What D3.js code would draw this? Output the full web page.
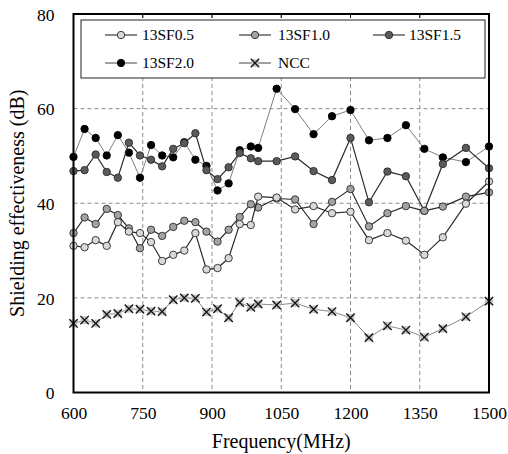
<!DOCTYPE html>
<html>
<head>
<meta charset="utf-8">
<script src="https://cdn.jsdelivr.net/npm/d3@7"></script>
<style>
  html, body { margin: 0; padding: 0; background: #fff; }
  svg { display: block; }
</style>
</head>
<body>
<svg id="chart" width="508" height="454"></svg>
<script>
// ---- data ----
const freqs = [600, 624, 648, 672, 696, 720, 744, 768, 792, 816, 840, 864, 888, 912, 936, 960, 984, 1000,
               1040, 1080, 1120, 1160, 1200, 1240, 1280, 1320, 1360, 1400, 1450, 1500];
const sf05 = [31.0, 30.7, 32.2, 31.0, 36.0, 34.0, 33.7, 31.8, 27.8, 29.1, 30.0, 33.7, 26.0, 26.3, 28.4, 35.6, 35.4, 41.4,
              41.2, 38.7, 39.4, 37.9, 38.2, 32.2, 33.7, 32.1, 29.1, 32.8, 39.9, 44.6];
const sf10 = [33.7, 37.0, 35.6, 38.8, 37.5, 34.7, 30.5, 34.4, 33.1, 35.0, 36.3, 36.0, 34.0, 31.9, 34.4, 37.1, 39.8, 39.1,
              41.0, 40.8, 35.6, 40.3, 43.0, 35.1, 37.9, 39.4, 38.4, 39.3, 41.4, 42.3];
const sf15 = [46.8, 47.0, 50.3, 46.6, 45.4, 52.8, 50.1, 49.2, 47.8, 51.5, 52.7, 54.8, 47.0, 45.1, 47.6, 50.6, 49.5, 48.9,
              48.9, 49.9, 46.8, 44.9, 53.8, 40.2, 46.7, 45.7, 38.4, 48.3, 51.7, 47.4];
const sf20 = [49.8, 55.7, 53.8, 50.1, 54.4, 50.7, 45.4, 52.3, 50.1, 49.7, 52.9, 49.2, 47.9, 42.7, 44.2, 51.2, 52.0, 51.7,
              64.2, 59.9, 54.6, 58.4, 59.7, 53.3, 53.8, 56.5, 51.5, 49.7, 48.7, 52.0];
const ncc  = [14.6, 15.3, 14.6, 16.5, 16.7, 17.7, 17.6, 17.2, 17.1, 19.6, 20.0, 19.9, 17.0, 17.7, 15.8, 19.0, 18.0, 18.7,
              18.5, 18.9, 17.6, 17.1, 15.8, 11.6, 14.1, 13.2, 11.7, 13.5, 16.0, 19.3];
const seriesNames = ["13SF0.5", "13SF1.0", "13SF1.5", "13SF2.0", "NCC"];
const xTicks = [600, 750, 900, 1050, 1200, 1350, 1500];
const yTicks = [0, 20, 40, 60, 80];
const xTitle = "Frequency(MHz)";
const yTitle = "Shielding effectiveness (dB)";

// ---- styles ----
const FONT = "'Liberation Serif', 'Times New Roman', 'DejaVu Serif', serif";
const styles = {
  "13SF0.5": { fill: "#d9d9d9", line: "#2a2a2a", lw: 1.2, marker: "circle" },
  "13SF1.0": { fill: "#a3a3a3", line: "#2a2a2a", lw: 1.2, marker: "circle" },
  "13SF1.5": { fill: "#5a5a5a", line: "#2a2a2a", lw: 1.2, marker: "circle" },
  "13SF2.0": { fill: "#000000", line: "#808080", lw: 1.0, marker: "circle" },
  "NCC":     { fill: "#c4c4c4", line: "#8a8a8a", lw: 1.0, marker: "x" }
};
const allSeries = [sf05, sf10, sf15, sf20, ncc];

const svg = d3.select("#chart");
const L = 73.5, R = 489, T = 14, B = 392.5;
const x = d3.scaleLinear().domain([600, 1500]).range([L, R]);
const y = d3.scaleLinear().domain([0, 80]).range([B, T]);

// gridlines
const grid = svg.append("g");
grid.selectAll("line.v").data(xTicks.slice(1, -1)).join("line")
  .attr("x1", d => x(d)).attr("x2", d => x(d)).attr("y1", T).attr("y2", B)
  .attr("stroke", "#8c8c8c").attr("stroke-width", 1).attr("stroke-dasharray", "4,3");
grid.selectAll("line.h").data(yTicks.slice(1, -1)).join("line")
  .attr("x1", L).attr("x2", R).attr("y1", d => y(d)).attr("y2", d => y(d))
  .attr("stroke", "#8c8c8c").attr("stroke-width", 1).attr("stroke-dasharray", "4,3");

// axes
const xAxis = svg.append("g").attr("transform", `translate(0,${B})`)
  .call(d3.axisBottom(x).tickValues(xTicks).tickSize(0).tickPadding(14).tickFormat(d3.format("d")));
xAxis.select(".domain").remove();
xAxis.attr("font-family", null).attr("font-size", null);
xAxis.selectAll("text").style("font-size", "17.5px").style("font-family", FONT).attr("fill", "#000");

const yAxis = svg.append("g").attr("transform", `translate(${L},0)`)
  .call(d3.axisLeft(y).tickValues(yTicks).tickSize(0).tickPadding(19));
yAxis.select(".domain").remove();
yAxis.attr("font-family", null).attr("font-size", null);
yAxis.selectAll("text").style("font-size", "17.5px").style("font-family", FONT).attr("fill", "#000").attr("dy", "0.35em");

// small inward ticks on top
svg.append("g").selectAll("line").data(xTicks).join("line")
  .attr("x1", d => x(d)).attr("x2", d => x(d)).attr("y1", T).attr("y2", T + 4)
  .attr("stroke", "#000").attr("stroke-width", 1);

// titles
svg.append("text").attr("x", (L + R) / 2).attr("y", 448).attr("text-anchor", "middle")
  .style("font-size", "20px").style("font-family", FONT).text(xTitle);
svg.append("text").attr("transform", `translate(24,${(T + B) / 2}) rotate(-90)`)
  .attr("text-anchor", "middle").style("font-size", "20px").style("font-family", FONT).text(yTitle);

// legend box (white, above gridlines)
const lg = svg.append("g");
lg.append("rect").attr("x", 81).attr("y", 20).attr("width", 404).attr("height", 58)
  .attr("fill", "#fff").attr("stroke", "#222").attr("stroke-width", 1);

// series
const plot = svg.append("g");
function drawMarker(g, type, cx, cy, st) {
  if (type === "circle") {
    g.append("circle").attr("cx", cx).attr("cy", cy).attr("r", 3.7)
      .attr("fill", st.fill).attr("stroke", st.fill === "#000000" ? "#000" : "#2a2a2a").attr("stroke-width", 0.9);
  } else {
    g.append("rect").attr("x", cx - 3.8).attr("y", cy - 3.8).attr("width", 7.6).attr("height", 7.6)
      .attr("fill", st.fill);
    g.append("path").attr("d", `M${cx-4.2},${cy-4.2}L${cx+4.2},${cy+4.2}M${cx-4.2},${cy+4.2}L${cx+4.2},${cy-4.2}`)
      .attr("stroke", "#111").attr("stroke-width", 1.3);
  }
}
const line = d3.line().x(d => x(d[0])).y(d => y(d[1]));
[4, 3, 2, 1, 0].forEach(i => {
  const name = seriesNames[i];
  const st = styles[name];
  const pts = freqs.map((f, k) => [f, allSeries[i][k]]);
  const g = plot.append("g");
  g.append("path").attr("d", line(pts)).attr("fill", "none")
    .attr("stroke", st.line).attr("stroke-width", st.lw);
  pts.forEach(p => drawMarker(g, st.marker, x(p[0]), y(p[1]), st));
});

// legend entries
const legPos = [
  { lx: 105, tx: 142, y: 35 }, { lx: 239, tx: 278, y: 35 }, { lx: 373, tx: 409, y: 35 },
  { lx: 105, tx: 142, y: 63 }, { lx: 239, tx: 278, y: 63 }
];
seriesNames.forEach((name, i) => {
  const st = styles[name], p = legPos[i];
  const g = lg.append("g");
  g.append("line").attr("x1", p.lx).attr("x2", p.lx + 32).attr("y1", p.y).attr("y2", p.y)
    .attr("stroke", (st.marker === "x" || name === "13SF2.0") ? "#555" : "#2a2a2a").attr("stroke-width", 1.1);
  drawMarker(g, st.marker, p.lx + 16, p.y, st);
  g.append("text").attr("x", p.tx).attr("y", p.y).attr("dy", "0.35em")
    .style("font-size", "15.5px").style("font-family", FONT).text(name);
});

// frame
svg.append("rect").attr("x", L).attr("y", T).attr("width", R - L).attr("height", B - T)
  .attr("fill", "none").attr("stroke", "#000").attr("stroke-width", 2);
</script>
</body>
</html>
